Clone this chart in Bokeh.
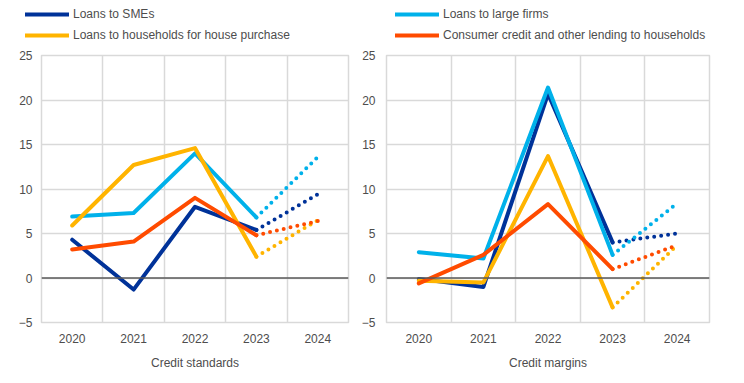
from bokeh.plotting import figure
from bokeh.models import FixedTicker, Span, Legend, LegendItem, Range1d
from bokeh.layouts import row, column
from bokeh.embed import file_html
from bokeh.resources import INLINE

years = [2020, 2021, 2022, 2023]
exp_year = 2024
tick_years = [2020, 2021, 2022, 2023, 2024]
tick_labels = ["2020", "2021", "2022", "2023", "2024"]
y_ticks = [-5, 0, 5, 10, 15, 20, 25]

series_names = ["Loans to SMEs", "Loans to large firms",
                "Loans to households for house purchase",
                "Consumer credit and other lending to households"]
colors = ["#003299", "#00b1ea", "#ffb400", "#ff4b00"]

# Credit standards
std_sme = [4.3, -1.3, 8.0, 5.4]
std_large = [6.9, 7.3, 14.0, 6.8]
std_house = [5.9, 12.7, 14.6, 2.4]
std_cons = [3.2, 4.1, 9.0, 4.8]
std_exp = [9.4, 13.6, 6.5, 6.4]   # expected 2024 (dotted)

# Credit margins
mar_sme = [-0.1, -1.0, 20.7, 4.0]
mar_large = [2.9, 2.2, 21.4, 2.6]
mar_house = [-0.3, -0.5, 13.7, -3.3]
mar_cons = [-0.6, 2.6, 8.3, 1.0]
mar_exp = [5.0, 8.4, 3.7, 3.7]

FONT = "Liberation Sans"
TXT = "#4d4d4d"
GRID = "#d9d9d9"
H = 327
LEG_H = 48


def make_panel(xlabel, series, exp, width, b_left, b_right, b_top, b_bottom,
               y_standoff):
    p = figure(width=width, height=H, output_backend="svg",
               toolbar_location=None, x_range=Range1d(2019.5, 2024.5),
               y_range=Range1d(-5, 25), min_border_left=b_left,
               min_border_right=b_right, min_border_top=b_top,
               min_border_bottom=b_bottom)
    p.background_fill_color = "white"
    p.border_fill_color = "white"
    p.outline_line_color = GRID
    p.outline_line_width = 1.5

    p.xaxis.ticker = FixedTicker(ticks=tick_years)
    p.xaxis.major_label_overrides = {y: l for y, l in zip(tick_years, tick_labels)}
    p.yaxis.ticker = FixedTicker(ticks=y_ticks)
    for ax in (p.xaxis[0], p.yaxis[0]):
        ax.axis_line_color = None
        ax.major_tick_line_color = None
        ax.minor_tick_line_color = None
        ax.major_tick_out = 0
        ax.major_label_text_font = FONT
        ax.major_label_text_font_size = "12px"
        ax.major_label_text_color = TXT
    p.xaxis.major_label_standoff = 11
    p.yaxis.major_label_standoff = y_standoff
    p.xaxis.axis_label = xlabel
    p.xaxis.axis_label_text_font = FONT
    p.xaxis.axis_label_text_font_size = "12px"
    p.xaxis.axis_label_text_font_style = "normal"
    p.xaxis.axis_label_text_color = TXT
    p.xaxis.axis_label_standoff = 10

    p.xgrid.ticker = FixedTicker(ticks=[2019.5, 2020.5, 2021.5, 2022.5, 2023.5, 2024.5])
    p.xgrid.grid_line_color = GRID
    p.xgrid.grid_line_width = 1.5
    p.ygrid.ticker = FixedTicker(ticks=y_ticks)
    p.ygrid.grid_line_color = GRID
    p.ygrid.grid_line_width = 1.5

    p.add_layout(Span(location=0, dimension="width", line_color="#595959",
                      line_width=1.5))

    for vals, e, c in zip(series, exp, colors):
        p.line([years[-1], exp_year], [vals[-1], e], line_color=c, line_width=4,
               line_dash="0 7", line_cap="round")
    for vals, c in zip(series, colors):
        p.line(years, vals, line_color=c, line_width=4, line_cap="round",
               line_join="round")
    return p


def make_legend_fig(width, series):
    # Legend strip: its ranges exclude the data, so only the legend shows.
    lf = figure(width=width, height=LEG_H, output_backend="svg",
                toolbar_location=None, x_range=Range1d(0, 1), y_range=Range1d(0, 1),
                min_border=0, x_axis_location=None, y_axis_location=None)
    lf.outline_line_color = None
    lf.grid.visible = False
    lf.background_fill_color = "white"
    rends = [lf.line(years, vals, line_color=c, line_width=4, line_cap="round")
             for vals, c in zip(series, colors)]

    def mk(idx, x):
        lg = Legend(items=[LegendItem(label=series_names[i], renderers=[rends[i]])
                           for i in idx], location=(x, 6))
        lg.background_fill_alpha = 0
        lg.border_line_alpha = 0
        lg.padding = 0
        lg.margin = 0
        lg.spacing = 7
        lg.glyph_width = 44
        lg.glyph_height = 14
        lg.label_height = 14
        lg.label_standoff = 4
        lg.label_text_font = FONT
        lg.label_text_font_size = "12px"
        lg.label_text_color = TXT
        lf.add_layout(lg)

    mk([0, 2], 25)
    mk([1, 3], 395)
    return lf


left = make_panel("Credit standards",
                  [std_sme, std_large, std_house, std_cons], std_exp,
                  355, 41, 7, 7, 52, 9)
right = make_panel("Credit margins",
                   [mar_sme, mar_large, mar_house, mar_cons], mar_exp,
                   381, 31, 27, 6, 53, 11)

legend_fig = make_legend_fig(736, [std_sme, std_large, std_house, std_cons])
layout = column(legend_fig, row(left, right))
open("out.html", "w").write(file_html(layout, INLINE))
